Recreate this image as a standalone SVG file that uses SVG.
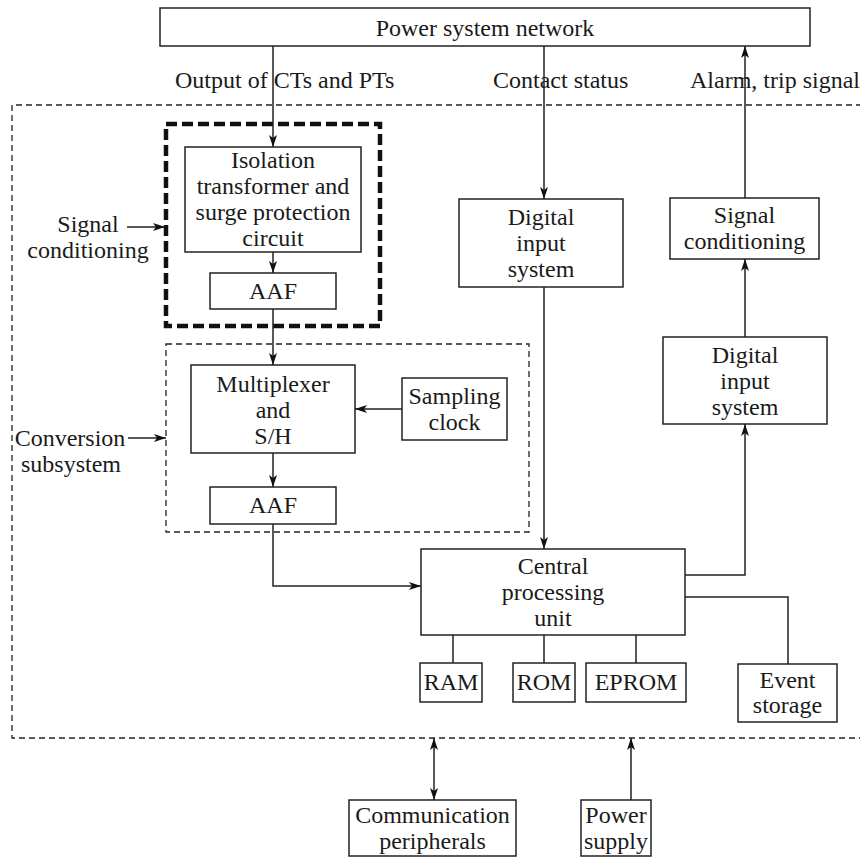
<svg xmlns="http://www.w3.org/2000/svg" width="860" height="857" viewBox="0 0 860 857">
<defs>
<style>
.box{fill:#fff;stroke:#222;stroke-width:1.5}
.t{font-family:"Liberation Serif","Times New Roman",serif;font-size:24px;fill:#1a1a1a;text-anchor:middle}
.tl{font-family:"Liberation Serif","Times New Roman",serif;font-size:24px;fill:#1a1a1a}
.ln{fill:none;stroke:#222;stroke-width:1.5}
.arr{fill:none;stroke:#222;stroke-width:1.5;marker-end:url(#ah)}
.dash{fill:none;stroke:#222;stroke-width:1.3;stroke-dasharray:6 4}
.thick{fill:none;stroke:#111;stroke-width:4.5;stroke-dasharray:11 5}
</style>
<marker id="ah" markerWidth="12" markerHeight="8" refX="12" refY="4" orient="auto-start-reverse" markerUnits="userSpaceOnUse"><path d="M0,0 L12,4 L0,8 L3,4 z" fill="#111"/></marker>
</defs>
<rect width="860" height="857" fill="#fff"/>

<g id="boundaries">
<path class="dash" d="M862,105 H12 V738 H862"/>
<rect class="thick" x="166" y="124" width="214" height="202"/>
<rect class="dash" x="166" y="344" width="363" height="188"/>
</g>

<g id="connectors">
<path class="arr" d="M273,46 V147"/>
<path class="arr" d="M544,46 V199"/>
<path class="arr" d="M745,198 V46"/>
<path class="arr" d="M273,252 V273"/>
<path class="arr" d="M273,309 V365"/>
<path class="arr" d="M402,409 H355"/>
<path class="arr" d="M273,453 V487"/>
<path class="arr" d="M273,524 V586 H421"/>
<path class="arr" d="M544,287 V549"/>
<path class="arr" d="M685,575 H745 V424"/>
<path class="arr" d="M745,337 V259"/>
<path class="ln" d="M685,597 H788 V664"/>
<path class="ln" d="M453,635 V663"/>
<path class="ln" d="M544,635 V663"/>
<path class="ln" d="M636,635 V663"/>
<path class="arr" d="M127,227 H165"/>
<path class="arr" d="M128,438 H166"/>
<path class="arr" style="marker-start:url(#ah)" d="M434,738 V800"/>
<path class="arr" d="M631,800 V738"/>
</g>

<g id="power-system-network">
<rect class="box" x="160" y="8" width="650" height="38"/>
<text class="t" x="485" y="36">Power system network</text>
</g>

<g id="labels">
<text class="tl" x="175" y="88">Output of CTs and PTs</text>
<text class="tl" x="493" y="88">Contact status</text>
<text class="tl" x="690" y="88">Alarm, trip signal</text>
<text class="t" x="88" y="232">Signal</text>
<text class="t" x="88" y="258">conditioning</text>
<text class="t" x="70" y="446">Conversion</text>
<text class="t" x="71" y="472">subsystem</text>
</g>

<g id="isolation">
<rect class="box" x="185" y="147" width="176" height="105"/>
<text class="t" x="273" y="168">Isolation</text>
<text class="t" x="273" y="194">transformer and</text>
<text class="t" x="273" y="220">surge protection</text>
<text class="t" x="273" y="246">circuit</text>
</g>

<g id="aaf1">
<rect class="box" x="210" y="273" width="126" height="36"/>
<text class="t" x="273" y="299">AAF</text>
</g>

<g id="multiplexer">
<rect class="box" x="191" y="365" width="164" height="88"/>
<text class="t" x="273" y="392">Multiplexer</text>
<text class="t" x="273" y="418">and</text>
<text class="t" x="273" y="444">S/H</text>
</g>

<g id="sampling-clock">
<rect class="box" x="402" y="378" width="105" height="62"/>
<text class="t" x="454.5" y="404">Sampling</text>
<text class="t" x="454.5" y="430">clock</text>
</g>

<g id="aaf2">
<rect class="box" x="210" y="487" width="126" height="37"/>
<text class="t" x="273" y="513">AAF</text>
</g>

<g id="digital-input-1">
<rect class="box" x="459" y="199" width="164" height="88"/>
<text class="t" x="541" y="225">Digital</text>
<text class="t" x="541" y="251">input</text>
<text class="t" x="541" y="277">system</text>
</g>

<g id="signal-conditioning-out">
<rect class="box" x="670" y="198" width="149" height="61"/>
<text class="t" x="744.5" y="223">Signal</text>
<text class="t" x="744.5" y="249">conditioning</text>
</g>

<g id="digital-input-2">
<rect class="box" x="663" y="337" width="164" height="87"/>
<text class="t" x="745" y="363">Digital</text>
<text class="t" x="745" y="389">input</text>
<text class="t" x="745" y="415">system</text>
</g>

<g id="cpu">
<rect class="box" x="421" y="549" width="264" height="86"/>
<text class="t" x="553" y="574">Central</text>
<text class="t" x="553" y="600">processing</text>
<text class="t" x="553" y="626">unit</text>
</g>

<g id="ram">
<rect class="box" x="420" y="663" width="62" height="39"/>
<text class="t" x="451" y="690">RAM</text>
</g>
<g id="rom">
<rect class="box" x="513" y="663" width="62" height="39"/>
<text class="t" x="544" y="690">ROM</text>
</g>
<g id="eprom">
<rect class="box" x="586" y="663" width="100" height="39"/>
<text class="t" x="636" y="690">EPROM</text>
</g>
<g id="event-storage">
<rect class="box" x="738" y="664" width="99" height="58"/>
<text class="t" x="787.5" y="688">Event</text>
<text class="t" x="787.5" y="713">storage</text>
</g>

<g id="communication-peripherals">
<rect class="box" x="349" y="800" width="167" height="56"/>
<text class="t" x="432.5" y="823">Communication</text>
<text class="t" x="432.5" y="849">peripherals</text>
</g>
<g id="power-supply">
<rect class="box" x="581" y="800" width="70" height="56"/>
<text class="t" x="616" y="823">Power</text>
<text class="t" x="616" y="849">supply</text>
</g>
</svg>
